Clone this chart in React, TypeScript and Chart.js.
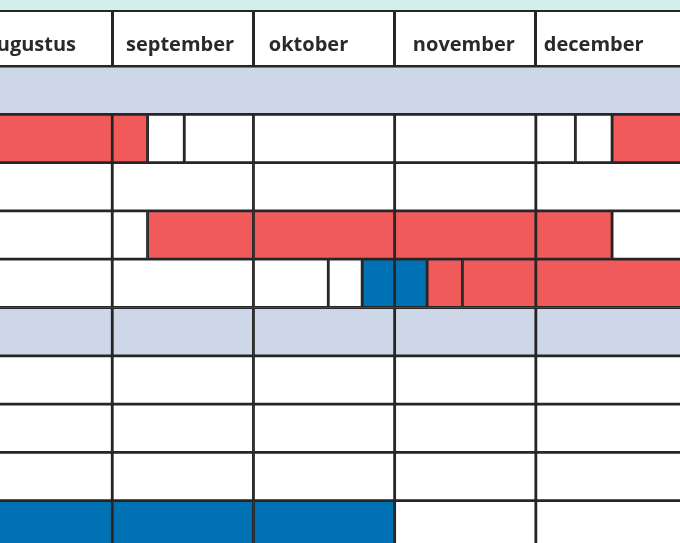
import React, { useEffect, useRef } from 'react';
import { Chart, registerables } from 'chart.js';

Chart.register(...registerables);

// Month header
const months = ['augustus', 'september', 'oktober', 'november', 'december'];
const monthBoundaries = [8, 9, 10, 11];
const monthLabelPositions = [7.42, 8.48, 9.39, 10.49, 11.41];

// Rows (top to bottom)
const rows = ['fase 1', 'taak 1', 'taak 2', 'taak 3', 'taak 4', 'fase 2', 'taak 5', 'taak 6', 'taak 7', 'taak 8'];

type Seg = [string, number, number];

// Cells per colour: [row, start, end] in months (8 = 1 september)
const bandCells: Seg[] = [
  ['fase 1', 6, 13],
  ['fase 2', 7, 8], ['fase 2', 8, 9], ['fase 2', 9, 10], ['fase 2', 10, 11], ['fase 2', 11, 12.5],
];

const redCells: Seg[] = [
  ['taak 1', 7, 8], ['taak 1', 8, 8.25], ['taak 1', 11.54, 12.5],
  ['taak 3', 8.25, 9], ['taak 3', 9, 10], ['taak 3', 10, 11], ['taak 3', 11, 11.54],
  ['taak 4', 10.23, 10.48], ['taak 4', 10.48, 11], ['taak 4', 11, 12.5],
];

const blueCells: Seg[] = [
  ['taak 4', 9.77, 10], ['taak 4', 10, 10.23],
  ['taak 8', 7, 8], ['taak 8', 8, 9], ['taak 8', 9, 10],
];

const whiteCells: Seg[] = [
  ['taak 1', 8.25, 8.51], ['taak 1', 8.51, 9], ['taak 1', 9, 10], ['taak 1', 10, 11], ['taak 1', 11, 11.28], ['taak 1', 11.28, 11.54],
  ['taak 2', 7, 8], ['taak 2', 8, 9], ['taak 2', 9, 10], ['taak 2', 10, 11], ['taak 2', 11, 12.5],
  ['taak 3', 7, 8], ['taak 3', 8, 8.25], ['taak 3', 11.54, 12.5],
  ['taak 4', 7, 8], ['taak 4', 8, 9], ['taak 4', 9, 9.53], ['taak 4', 9.53, 9.77],
  ['taak 5', 7, 8], ['taak 5', 8, 9], ['taak 5', 9, 10], ['taak 5', 10, 11], ['taak 5', 11, 12.5],
  ['taak 6', 7, 8], ['taak 6', 8, 9], ['taak 6', 9, 10], ['taak 6', 10, 11], ['taak 6', 11, 12.5],
  ['taak 7', 7, 8], ['taak 7', 8, 9], ['taak 7', 9, 10], ['taak 7', 10, 11], ['taak 7', 11, 12.5],
  ['taak 8', 10, 11], ['taak 8', 11, 12.5],
];

const X_MIN = 7.205;
const X_MAX = 12.021;

const LINE = '#262626';
const RED = '#f15a5a';
const BLUE = '#0071b3';
const BAND = '#cdd7e8';
const TEAL = '#d5eeee';

const toData = (cells: Seg[]) => cells.map(([row, s, e]) => ({ x: [s, e], y: row }));

export default function App() {
  const ref = useRef<HTMLCanvasElement | null>(null);

  useEffect(() => {
    if (!ref.current) return;
    const mk = (label: string, cells: Seg[], color: string) => ({
      label,
      data: toData(cells) as any,
      backgroundColor: color,
      borderColor: LINE,
      borderWidth: 1.75,
      borderSkipped: false as any,
      grouped: false,
      categoryPercentage: 1,
      barPercentage: 1,
    });
    const chart = new Chart(ref.current, {
      type: 'bar',
      data: {
        datasets: [
          mk('band', bandCells, BAND),
          mk('leeg', whiteCells, '#ffffff'),
          mk('rood', redCells, RED),
          mk('blauw', blueCells, BLUE),
        ],
      },
      options: {
        indexAxis: 'y',
        animation: false,
        responsive: true,
        maintainAspectRatio: false,
        layout: { padding: 0, autoPadding: false } as any,
        plugins: { legend: { display: false }, tooltip: { enabled: false } },
        scales: {
          y: { type: 'category', labels: rows, display: false },
          x: {
            type: 'linear',
            position: 'top',
            min: X_MIN,
            max: X_MAX,
            weight: 1,
            backgroundColor: '#ffffff',
            afterBuildTicks: (s: any) => { s.ticks = monthBoundaries.map((v) => ({ value: v })); },
            afterFit: (s: any) => { s.paddingLeft = 0; s.paddingRight = 0; },
            grid: { drawOnChartArea: false, drawTicks: true, tickLength: 54, lineWidth: 3, color: LINE },
            border: { display: true, width: 3, color: LINE },
            ticks: { display: false },
          },
          xl: {
            type: 'linear',
            position: 'top',
            min: X_MIN,
            max: X_MAX,
            weight: 0,
            afterBuildTicks: (s: any) => { s.ticks = monthLabelPositions.map((v) => ({ value: v })); },
            afterFit: (s: any) => { s.height = 0; s.paddingLeft = 0; s.paddingRight = 0; },
            grid: { display: false, drawTicks: false },
            border: { display: false },
            ticks: {
              display: true,
              mirror: true,
              autoSkip: false,
              maxRotation: 0,
              minRotation: 0,
              padding: -33,
              z: 1,
              color: '#2a2a2a',
              font: { family: '"Open Sans", sans-serif', size: 20, weight: '700' as any },
              callback: (_v: any, i: number) => months[i],
            },
          } as any,
        },
      } as any,
    });
    return () => chart.destroy();
  }, []);

  return (
    <div style={{ position: 'fixed', left: 0, top: 0, width: 680, height: 560, background: TEAL, paddingTop: 10, boxSizing: 'border-box' }}>
      <div style={{ borderTop: `2px solid ${LINE}`, width: 680 }}>
        <div style={{ position: 'relative', width: 680, height: 537 }}>
          <canvas ref={ref} />
        </div>
      </div>
    </div>
  );
}
